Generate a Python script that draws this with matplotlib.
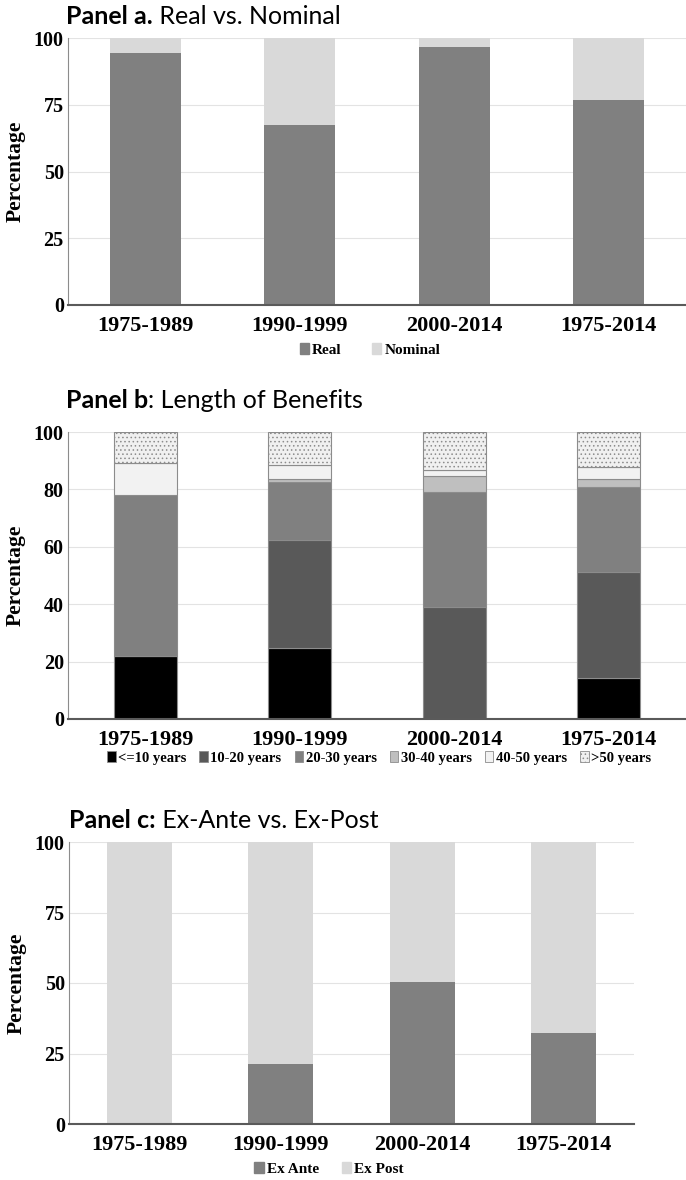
import numpy as np
import matplotlib.pyplot as plt
from matplotlib.patches import Patch

plt.rcParams["hatch.linewidth"] = 0.6
plt.rcParams["hatch.color"] = "#9a9a9a"

# ----------------------
# data
# ----------------------
periods = ["1975-1989", "1990-1999", "2000-2014", "1975-2014"]

# panel a
real = [94.4, 67.4, 96.6, 76.9]
nominal = [100 - v for v in real]

# panel b (length of benefits)
length_labels = ["<=10 years", "10-20 years", "20-30 years", "30-40 years", "40-50 years", ">50 years"]
len_le10 = [22.0, 24.8, 0.0, 14.4]
len_10_20 = [0.0, 37.4, 39.1, 36.9]
len_20_30 = [56.1, 20.4, 39.9, 29.6]
len_30_40 = [0.0, 0.9, 5.6, 2.6]
len_40_50 = [11.0, 5.0, 2.3, 4.3]
len_gt50 = [10.9, 11.5, 13.1, 12.2]

# panel c
ex_ante = [0.0, 21.1, 50.3, 32.4]
ex_post = [100 - v for v in ex_ante]

W, H = 686, 1180
SERIF = "Liberation Serif"
SANS = "Lato"


def px_rect(l, t, r, b):
    # pixel box (from top-left) -> figure fraction
    return [l / W, 1 - b / H, (r - l) / W, (b - t) / H]


def style_axes(ax, yticks):
    ax.set_xlim(-0.5, 3.5)
    ax.set_ylim(0, 100)
    ax.set_yticks(yticks)
    ax.set_xticks(range(len(periods)))
    ax.set_xticklabels(periods, fontfamily=SERIF, fontweight="bold", fontsize=16)
    for lab in ax.get_yticklabels():
        lab.set_fontfamily(SERIF)
        lab.set_fontweight("bold")
        lab.set_fontsize(14.5)
    ax.tick_params(axis="both", length=0)
    ax.tick_params(axis="y", pad=3)
    ax.tick_params(axis="x", pad=8)
    ax.yaxis.grid(True, color="#e3e3e3", lw=0.8)
    ax.set_axisbelow(True)
    for s in ["top", "right"]:
        ax.spines[s].set_visible(False)
    ax.spines["left"].set_color("#8c8c8c")
    ax.spines["left"].set_linewidth(0.8)
    ax.spines["bottom"].set_color("#5a5a5a")
    ax.spines["bottom"].set_linewidth(1.5)
    ax.set_ylabel("Percentage", fontfamily=SERIF, fontweight="bold", fontsize=15.5, labelpad=6)


def panel_title(fig, x_px, y_px, bold, rest):
    t = fig.text(x_px / W, 1 - y_px / H, bold, fontfamily=SANS, fontweight="bold",
                 fontsize=18, va="baseline", ha="left")
    fig.canvas.draw()
    bb = t.get_window_extent()
    fig.text(bb.x1 / W, 1 - y_px / H, rest, fontfamily=SANS, fontsize=18,
             va="baseline", ha="left")


fig = plt.figure(figsize=(6.86, 11.8), dpi=100)
x = np.arange(len(periods))

# ----------------------
# Panel a
# ----------------------
ax1 = fig.add_axes(px_rect(68, 38, 686, 305))
ax1.bar(x, real, width=0.46, color="#808080")
ax1.bar(x, nominal, width=0.46, bottom=real, color="#d9d9d9")
style_axes(ax1, [0, 25, 50, 75, 100])
h1 = [Patch(color="#808080", label="Real"), Patch(color="#d9d9d9", label="Nominal")]
fig.legend(handles=h1, loc="center", bbox_to_anchor=(370 / W, 1 - 350 / H), ncol=2,
           frameon=False, handlelength=0.6, handleheight=0.7, handletextpad=0.2,
           columnspacing=2.0, prop={"family": SERIF, "weight": "bold", "size": 11})
panel_title(fig, 66, 24, "Panel a.", " Real vs. Nominal")

# ----------------------
# Panel b
# ----------------------
ax2 = fig.add_axes(px_rect(68, 432, 686, 719))
series_b = [len_le10, len_10_20, len_20_30, len_30_40, len_40_50, len_gt50]
colors_b = ["#000000", "#595959", "#808080", "#bfbfbf", "#f2f2f2", "#f0f0f0"]
hatches_b = [None, None, None, None, None, "...."]
bottom = np.zeros(len(periods))
handles_b = []
for vals, col, hat, lab in zip(series_b, colors_b, hatches_b, length_labels):
    ax2.bar(x, vals, width=0.41, bottom=bottom, color=col, edgecolor="#8c8c8c",
            linewidth=0.8, hatch=hat)
    bottom += np.array(vals)
    handles_b.append(Patch(facecolor=col, edgecolor="#8c8c8c", linewidth=0.6, hatch=hat, label=lab))
style_axes(ax2, [0, 20, 40, 60, 80, 100])
fig.legend(handles=handles_b, loc="center", bbox_to_anchor=(379 / W, 1 - 758 / H), ncol=6,
           frameon=False, handlelength=0.6, handleheight=0.7, handletextpad=0.15,
           columnspacing=0.9, prop={"family": SERIF, "weight": "bold", "size": 10.5})
panel_title(fig, 66, 408, "Panel b", ": Length of Benefits")

# ----------------------
# Panel c
# ----------------------
ax3 = fig.add_axes(px_rect(69, 842, 634, 1124))
ax3.bar(x, ex_ante, width=0.46, color="#808080")
ax3.bar(x, ex_post, width=0.46, bottom=ex_ante, color="#d9d9d9")
style_axes(ax3, [0, 25, 50, 75, 100])
h3 = [Patch(color="#808080", label="Ex Ante"), Patch(color="#d9d9d9", label="Ex Post")]
fig.legend(handles=h3, loc="center", bbox_to_anchor=(329 / W, 1 - 1169 / H), ncol=2,
           frameon=False, handlelength=0.6, handleheight=0.7, handletextpad=0.2,
           columnspacing=1.5, prop={"family": SERIF, "weight": "bold", "size": 11})
panel_title(fig, 69, 828, "Panel c:", " Ex-Ante vs. Ex-Post")

fig.savefig("out.png", dpi=100)
